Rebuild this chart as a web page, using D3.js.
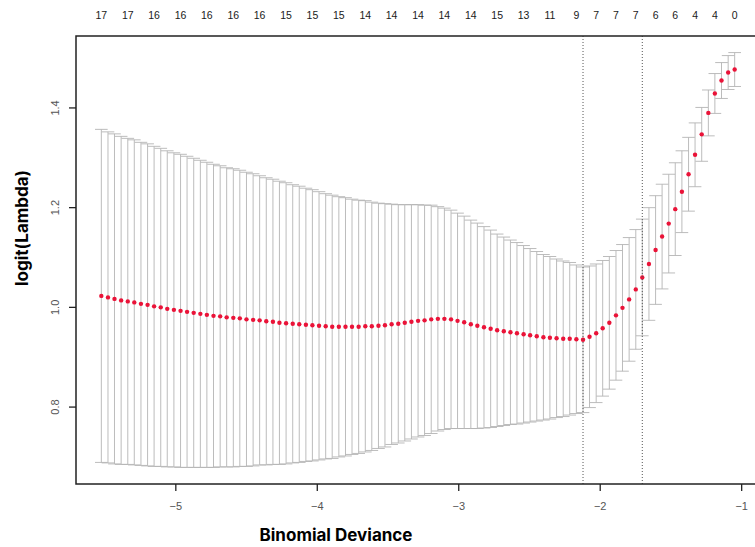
<!DOCTYPE html>
<html>
<head>
<meta charset="utf-8">
<script src="https://cdn.jsdelivr.net/npm/d3@7"></script>
<style>
  body { margin: 0; background: #fff; }
  .chart text { font-family: "Liberation Sans", Arial, sans-serif; }
  .chart text.title { font-family: Inter, Roboto, sans-serif; font-weight: 700; }
</style>
</head>
<body>
<svg class="chart"></svg>
<script>
// log(lambda) path, cross-validated mean and its standard error
let logLambda = [
  -5.523, -5.476, -5.430, -5.383, -5.336, -5.290, -5.243, -5.196, -5.150, -5.103,
  -5.057, -5.010, -4.963, -4.917, -4.870, -4.823, -4.777, -4.730, -4.683, -4.637,
  -4.590, -4.544, -4.497, -4.450, -4.404, -4.357, -4.310, -4.264, -4.217, -4.170,
  -4.124, -4.077, -4.031, -3.984, -3.937, -3.891, -3.844, -3.797, -3.751, -3.704,
  -3.657, -3.611, -3.564, -3.518, -3.471, -3.424, -3.378, -3.331, -3.284, -3.238,
  -3.191, -3.144, -3.098, -3.051, -3.005, -2.958, -2.911, -2.865, -2.818, -2.771,
  -2.725, -2.678, -2.631, -2.585, -2.538, -2.492, -2.445, -2.398, -2.352, -2.305,
  -2.258, -2.212, -2.165, -2.118, -2.072, -2.025, -1.979, -1.932, -1.885, -1.839,
  -1.792, -1.745, -1.699, -1.652, -1.605, -1.559, -1.512, -1.466, -1.419, -1.372,
  -1.326, -1.279, -1.232, -1.186, -1.139, -1.092, -1.046
];

let cvMean = [
  1.022, 1.019, 1.016, 1.013, 1.011, 1.009, 1.006, 1.004, 1.001, 0.999,
  0.996, 0.994, 0.992, 0.990, 0.988, 0.986, 0.984, 0.982, 0.981, 0.979,
  0.978, 0.977, 0.975, 0.974, 0.973, 0.971, 0.970, 0.968, 0.967, 0.966,
  0.965, 0.964, 0.963, 0.962, 0.961, 0.960, 0.960, 0.960, 0.960, 0.960,
  0.961, 0.961, 0.962, 0.963, 0.965, 0.966, 0.968, 0.970, 0.972, 0.973,
  0.975, 0.976, 0.976, 0.975, 0.972, 0.969, 0.965, 0.962, 0.959, 0.956,
  0.953, 0.951, 0.949, 0.947, 0.945, 0.943, 0.941, 0.939, 0.938, 0.937,
  0.936, 0.936, 0.935, 0.934, 0.940, 0.947, 0.957, 0.968, 0.983, 0.998,
  1.015, 1.035, 1.059, 1.086, 1.114, 1.141, 1.167, 1.196, 1.231, 1.266,
  1.305, 1.346, 1.389, 1.428, 1.454, 1.470, 1.476
];

let cvSd = [
  0.334, 0.332, 0.331, 0.329, 0.327, 0.326, 0.324, 0.323, 0.321, 0.319,
  0.317, 0.315, 0.314, 0.312, 0.310, 0.308, 0.306, 0.304, 0.302, 0.300,
  0.299, 0.297, 0.295, 0.293, 0.290, 0.288, 0.286, 0.284, 0.282, 0.279,
  0.277, 0.274, 0.272, 0.269, 0.266, 0.264, 0.261, 0.259, 0.256, 0.254,
  0.252, 0.249, 0.246, 0.244, 0.241, 0.239, 0.237, 0.235, 0.233, 0.231,
  0.229, 0.225, 0.222, 0.219, 0.216, 0.213, 0.209, 0.206, 0.202, 0.198,
  0.193, 0.189, 0.185, 0.182, 0.178, 0.174, 0.170, 0.166, 0.163, 0.159,
  0.156, 0.153, 0.149, 0.146, 0.142, 0.139, 0.136, 0.133, 0.130, 0.127,
  0.124, 0.120, 0.117, 0.113, 0.109, 0.105, 0.099, 0.093, 0.082, 0.074,
  0.064, 0.054, 0.046, 0.040, 0.036, 0.034, 0.034
];

// number of non-zero coefficients printed on top, and the lambda index they sit on
let nzeroLabels = [17, 17, 16, 16, 16, 16, 16, 15, 15, 15, 14, 14, 14, 14, 14, 15, 13, 11, 9, 7, 7, 7, 6, 6, 4, 4, 0];
let nzeroAt = [0, 4, 8, 12, 16, 20, 24, 28, 32, 36, 40, 44, 48, 52, 56, 60, 64, 68, 72, 75, 78, 81, 84, 87, 90, 93, 96];

let lambdaMinAt = 73;
let lambda1seAt = 82;

let yTicks = [0.8, 1.0, 1.2, 1.4];
let xTicks = [-5, -4, -3, -2, -1];

//basic graph info
let svg_width = 755;
let svg_height = 547;

let plot_left = 76;
let plot_right = 760;
let plot_top = 36;
let plot_bottom = 484;

let svg = d3.select('.chart')
  .attr('width', svg_width)
  .attr('height', svg_height);

let upper = cvMean.map((d, i) => d + cvSd[i]);
let lower = cvMean.map((d, i) => d - cvSd[i]);

// R style 4% padding on both scales
let xMin = d3.min(logLambda), xMax = d3.max(logLambda);
let xPad = 0.04 * (xMax - xMin);
let yMin = d3.min(lower), yMax = d3.max(upper);
let yPad = 0.04 * (yMax - yMin);

let scaleX = d3.scaleLinear()
  .domain([xMin - xPad, xMax + xPad])
  .range([plot_left, plot_right]);

let scaleY = d3.scaleLinear()
  .domain([yMin - yPad, yMax + yPad])
  .range([plot_bottom, plot_top]);

let barW = 0.01 * (xMax - xMin);

//error bars
let bars = svg.append('g')
  .attr('stroke', '#b4b4b4')
  .attr('stroke-width', 0.9)
  .attr('fill', 'none');

bars.selectAll('.vbar')
  .data(logLambda)
  .enter()
  .append('line')
  .attr('x1', d => scaleX(d))
  .attr('x2', d => scaleX(d))
  .attr('y1', (d, i) => scaleY(upper[i]))
  .attr('y2', (d, i) => scaleY(lower[i]));

bars.selectAll('.capTop')
  .data(logLambda)
  .enter()
  .append('line')
  .attr('x1', d => scaleX(d - barW))
  .attr('x2', d => scaleX(d + barW))
  .attr('y1', (d, i) => scaleY(upper[i]))
  .attr('y2', (d, i) => scaleY(upper[i]));

bars.selectAll('.capBottom')
  .data(logLambda)
  .enter()
  .append('line')
  .attr('x1', d => scaleX(d - barW))
  .attr('x2', d => scaleX(d + barW))
  .attr('y1', (d, i) => scaleY(lower[i]))
  .attr('y2', (d, i) => scaleY(lower[i]));

//points
svg.append('g')
  .selectAll('circle')
  .data(logLambda)
  .enter()
  .append('circle')
  .attr('cx', d => scaleX(d))
  .attr('cy', (d, i) => scaleY(cvMean[i]))
  .attr('r', 2.2)
  .attr('fill', '#ea1338');

//lambda.min and lambda.1se
svg.append('g')
  .selectAll('line')
  .data([lambdaMinAt, lambda1seAt])
  .enter()
  .append('line')
  .attr('x1', d => scaleX(logLambda[d]))
  .attr('x2', d => scaleX(logLambda[d]))
  .attr('y1', plot_top)
  .attr('y2', plot_bottom)
  .attr('stroke', '#555')
  .attr('stroke-width', 1)
  .attr('stroke-dasharray', '1,2');

//axes
let axisX = d3.axisBottom(scaleX)
  .tickValues(xTicks)
  .tickFormat(d3.format('d'))
  .tickSize(7)
  .tickPadding(11);

let axisY = d3.axisLeft(scaleY)
  .tickValues(yTicks)
  .tickFormat(d3.format('.1f'))
  .tickSize(7);

svg.append('g')
  .attr('transform', translate(0, plot_bottom))
  .attr('class', 'x-axis')
  .call(customXAxis);

svg.append('g')
  .attr('transform', translate(plot_left, 0))
  .attr('class', 'y-axis')
  .call(customYAxis);

//box
svg.append('rect')
  .attr('x', plot_left)
  .attr('y', plot_top)
  .attr('width', plot_right - plot_left)
  .attr('height', plot_bottom - plot_top)
  .attr('fill', 'none')
  .attr('stroke', '#222')
  .attr('stroke-width', 1.5);

//top labels
svg.append('g')
  .selectAll('text')
  .data(nzeroLabels)
  .enter()
  .append('text')
  .text(d => d)
  .attr('x', (d, i) => scaleX(logLambda[nzeroAt[i]]))
  .attr('y', 19)
  .attr('text-anchor', 'middle')
  .attr('font-size', 10.5)
  .attr('fill', '#1a1a1a');

//titles
svg.append('text')
  .attr('class', 'title')
  .text('Binomial Deviance')
  .attr('x', 336)
  .attr('y', 541)
  .attr('text-anchor', 'middle')
  .attr('font-size', 17)
  .attr('fill', '#000');

svg.append('text')
  .attr('class', 'title')
  .text('logit(Lambda)')
  .attr('transform', translate(28, 228) + ' rotate(-90)')
  .attr('text-anchor', 'middle')
  .attr('font-size', 17)
  .attr('fill', '#000');

function translate(x, y) {
  return 'translate(' + x + ',' + y + ')';
}

function customXAxis(g) {
  g.call(axisX);
  g.select('.domain').remove();
  g.selectAll('.tick line')
    .attr('stroke', '#222')
    .attr('stroke-width', 1.3);
  g.selectAll('.tick text')
    .attr('font-size', 11)
    .attr('fill', '#555');
}

function customYAxis(g) {
  g.call(axisY);
  g.select('.domain').remove();
  g.selectAll('.tick line')
    .attr('stroke', '#222')
    .attr('stroke-width', 1.3);
  // labels turned to read bottom-up, like R's las = 0
  g.selectAll('.tick text')
    .attr('font-size', 11)
    .attr('fill', '#555')
    .attr('text-anchor', 'middle')
    .attr('dy', 0)
    .attr('x', 0)
    .attr('y', -17)
    .attr('transform', 'rotate(-90)');
}
</script>
</body>
</html>
